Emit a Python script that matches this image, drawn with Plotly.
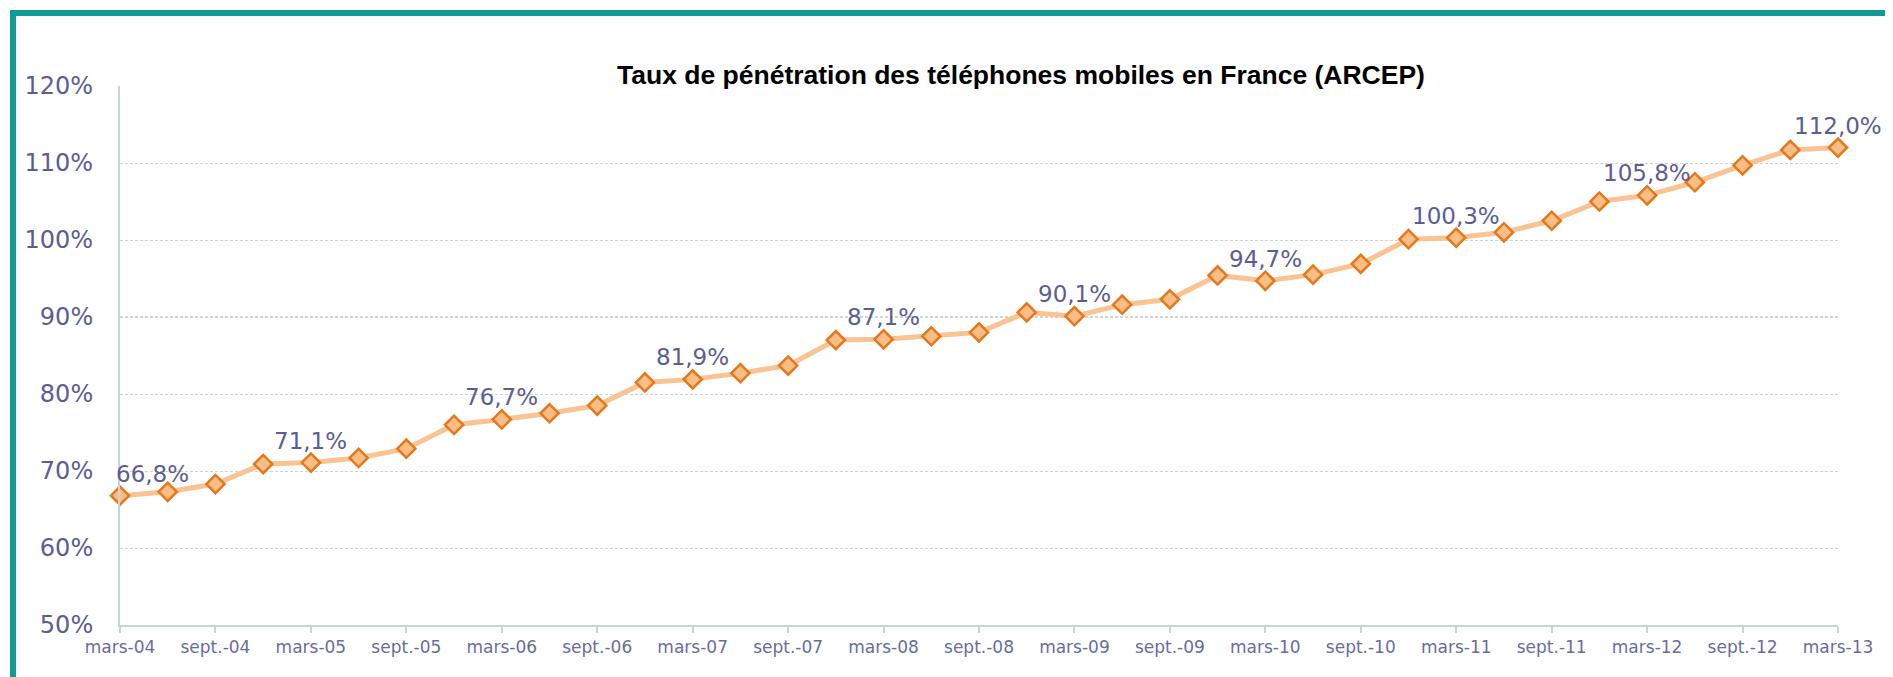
import plotly.graph_objects as go

# ---- data ----
quarters = [
    "mars-04", "juin-04", "sept.-04", "déc.-04",
    "mars-05", "juin-05", "sept.-05", "déc.-05",
    "mars-06", "juin-06", "sept.-06", "déc.-06",
    "mars-07", "juin-07", "sept.-07", "déc.-07",
    "mars-08", "juin-08", "sept.-08", "déc.-08",
    "mars-09", "juin-09", "sept.-09", "déc.-09",
    "mars-10", "juin-10", "sept.-10", "déc.-10",
    "mars-11", "juin-11", "sept.-11", "déc.-11",
    "mars-12", "juin-12", "sept.-12", "déc.-12",
    "mars-13",
]
penetration = [
    66.8, 67.3, 68.3, 70.9,
    71.1, 71.7, 72.9, 76.0,
    76.7, 77.5, 78.5, 81.5,
    81.9, 82.7, 83.7, 87.0,
    87.1, 87.5, 88.0, 90.6,
    90.1, 91.6, 92.3, 95.4,
    94.7, 95.5, 96.9, 100.1,
    100.3, 101.0, 102.5, 105.0,
    105.8, 107.5, 109.7, 111.7,
    112.0,
]
tick_labels = [q for q in quarters if q.startswith(("mars", "sept"))]
y_ticks = [50, 60, 70, 80, 90, 100, 110, 120]
y_tick_text = [f"{v}%" for v in y_ticks]
title_text = "Taux de pénétration des téléphones mobiles en France (ARCEP)"

# ---- layout geometry (page pixels; the page body has an 8px margin) ----
PAGE_W, PAGE_H = 1893, 677
OFF = 8
W, H = PAGE_W - OFF, PAGE_H - OFF
PLOT_L, PLOT_R, PLOT_T, PLOT_B = 120, 1838, 86, 625   # page coordinates
ML, MR = PLOT_L - OFF, PAGE_W - PLOT_R
MT, MB = PLOT_T - OFF, PAGE_H - PLOT_B
PW, PH = W - ML - MR, H - MT - MB


def px(x):  # page x -> paper
    return (x - PLOT_L) / PW


def py(y):  # page y -> paper
    return (PLOT_B - y) / PH


LABEL_COLOR = "#5b5d94"
AXIS_COLOR = "#c9d5d5"
TEAL = "#0e9b95"

fig = go.Figure()
fig.add_trace(go.Scatter(
    x=quarters, y=penetration,
    mode="lines+markers",
    line=dict(color="#f9c394", width=5),
    marker=dict(symbol="diamond", size=14, color="#f9bd86",
                line=dict(color="#e5781c", width=2.5)),
    cliponaxis=False,
    hoverinfo="skip",
))

annotations = []
for i, (q, v) in enumerate(zip(quarters, penetration)):
    if q.startswith("mars"):
        annotations.append(dict(
            x=q, y=v, xref="x", yref="y",
            text=f"{v:.1f}".replace(".", ",") + "%",
            showarrow=False, yshift=22, xshift=32 if i == 0 else 0,
            font=dict(family="DejaVu Sans", size=23, color=LABEL_COLOR),
        ))

annotations.append(dict(
    x=px(1021), y=py(75), xref="paper", yref="paper",
    xanchor="center", yanchor="middle", showarrow=False,
    text=f"<b>{title_text}</b>",
    font=dict(family="Liberation Sans, Arial", size=26.5, color="#000000"),
))

shapes = [
    # white box behind the title that breaks the top gridline
    dict(type="rect", xref="paper", yref="paper",
         x0=px(593), x1=px(1500), y0=py(96), y1=py(60),
         fillcolor="white", line=dict(width=0), layer="above"),
    # emphasised 90% gridline
    dict(type="line", xref="paper", yref="y", x0=0, x1=1, y0=90, y1=90,
         line=dict(color="#9fb3b3", width=1, dash="3px,2px"), layer="below"),
    # teal frame (left and top)
    dict(type="rect", xref="paper", yref="paper",
         x0=px(10), x1=px(16), y0=py(PAGE_H + 5), y1=py(10),
         fillcolor=TEAL, line=dict(width=0), layer="above"),
    dict(type="rect", xref="paper", yref="paper",
         x0=px(10), x1=px(PAGE_W + 5), y0=py(16), y1=py(10),
         fillcolor=TEAL, line=dict(width=0), layer="above"),
]

fig.update_layout(
    width=W, height=H,
    margin=dict(l=ML, r=MR, t=MT, b=MB),
    paper_bgcolor="white", plot_bgcolor="white",
    showlegend=False,
    annotations=annotations,
    shapes=shapes,
    xaxis=dict(
        type="category", range=[0, len(quarters) - 1],
        tickmode="array", tickvals=tick_labels, ticktext=tick_labels,
        showgrid=False, zeroline=False,
        showline=True, linecolor=AXIS_COLOR, linewidth=2,
        ticks="outside", ticklen=6, tickcolor=AXIS_COLOR, tickwidth=1.5,
        tickfont=dict(family="DejaVu Sans", size=17, color="#6a6c9e"),
        tickangle=0,
    ),
    yaxis=dict(
        range=[50, 120], tickmode="array", tickvals=y_ticks,
        ticktext=y_tick_text,
        showgrid=True, gridcolor="#c9d5d5", gridwidth=1, griddash="3px,2px",
        zeroline=False,
        showline=True, linecolor=AXIS_COLOR, linewidth=2,
        ticks="", ticklabelstandoff=20,
        tickfont=dict(family="DejaVu Sans", size=24, color=LABEL_COLOR),
    ),
)

fig.write_html("out.html")
